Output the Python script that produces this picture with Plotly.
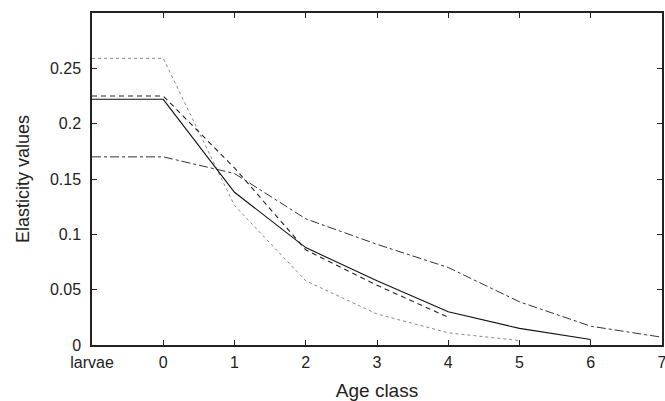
import plotly.graph_objects as go

x_ticks = [-1, 0, 1, 2, 3, 4, 5, 6, 7]
x_labels = ["larvae", "0", "1", "2", "3", "4", "5", "6", "7"]

x_solid = [-1, 0, 1, 2, 3, 4, 5, 6]
y_solid = [0.222, 0.222, 0.138, 0.088, 0.058, 0.030, 0.015, 0.005]

x_dash = [-1, 0, 1, 2, 3, 4]
y_dash = [0.225, 0.225, 0.160, 0.086, 0.054, 0.025]

x_dot = [-1, 0, 1, 2, 3, 4, 5]
y_dot = [0.259, 0.259, 0.126, 0.058, 0.028, 0.011, 0.004]

x_dashdot = [-1, 0, 1, 2, 3, 4, 5, 6, 7]
y_dashdot = [0.170, 0.170, 0.155, 0.114, 0.091, 0.070, 0.039, 0.017, 0.007]

fig = go.Figure()
fig.add_trace(go.Scatter(x=x_dot, y=y_dot, mode="lines",
                         line=dict(color="#888888", width=1, dash="dot")))
fig.add_trace(go.Scatter(x=x_dashdot, y=y_dashdot, mode="lines",
                         line=dict(color="#333333", width=1, dash="dashdot")))
fig.add_trace(go.Scatter(x=x_dash, y=y_dash, mode="lines",
                         line=dict(color="#222222", width=1.1, dash="5px,4px")))
fig.add_trace(go.Scatter(x=x_solid, y=y_solid, mode="lines",
                         line=dict(color="#111111", width=1.1)))

font = dict(family="Liberation Sans, Arial, sans-serif", size=16, color="#222222")
fig.update_layout(
    width=665, height=401,
    margin=dict(l=92, r=3, t=13, b=56),
    plot_bgcolor="white", paper_bgcolor="white",
    showlegend=False, font=font,
    xaxis=dict(range=[-1, 7], tickmode="array", tickvals=x_ticks, ticktext=x_labels,
               ticks="inside", ticklen=5, tickcolor="#222222", mirror="ticks",
               ticklabelstandoff=2, automargin=False, ticklabeloverflow="allow",
               showline=True, linecolor="#222222", linewidth=1.5, showgrid=False,
               zeroline=False, title=dict(text="Age class", standoff=17)),
    yaxis=dict(range=[0, 0.3], tickmode="array",
               tickvals=[0, 0.05, 0.1, 0.15, 0.2, 0.25],
               ticktext=["0", "0.05", "0.1", "0.15", "0.2", "0.25"],
               ticks="inside", ticklen=5, tickcolor="#222222", mirror="ticks",
               ticklabelstandoff=6, automargin=False, ticklabeloverflow="allow",
               showline=True, linecolor="#222222", linewidth=1.5, showgrid=False,
               zeroline=False,
               title=dict(text="Elasticity values", standoff=16, font=dict(size=18))),
)
fig.write_html("out.html")
